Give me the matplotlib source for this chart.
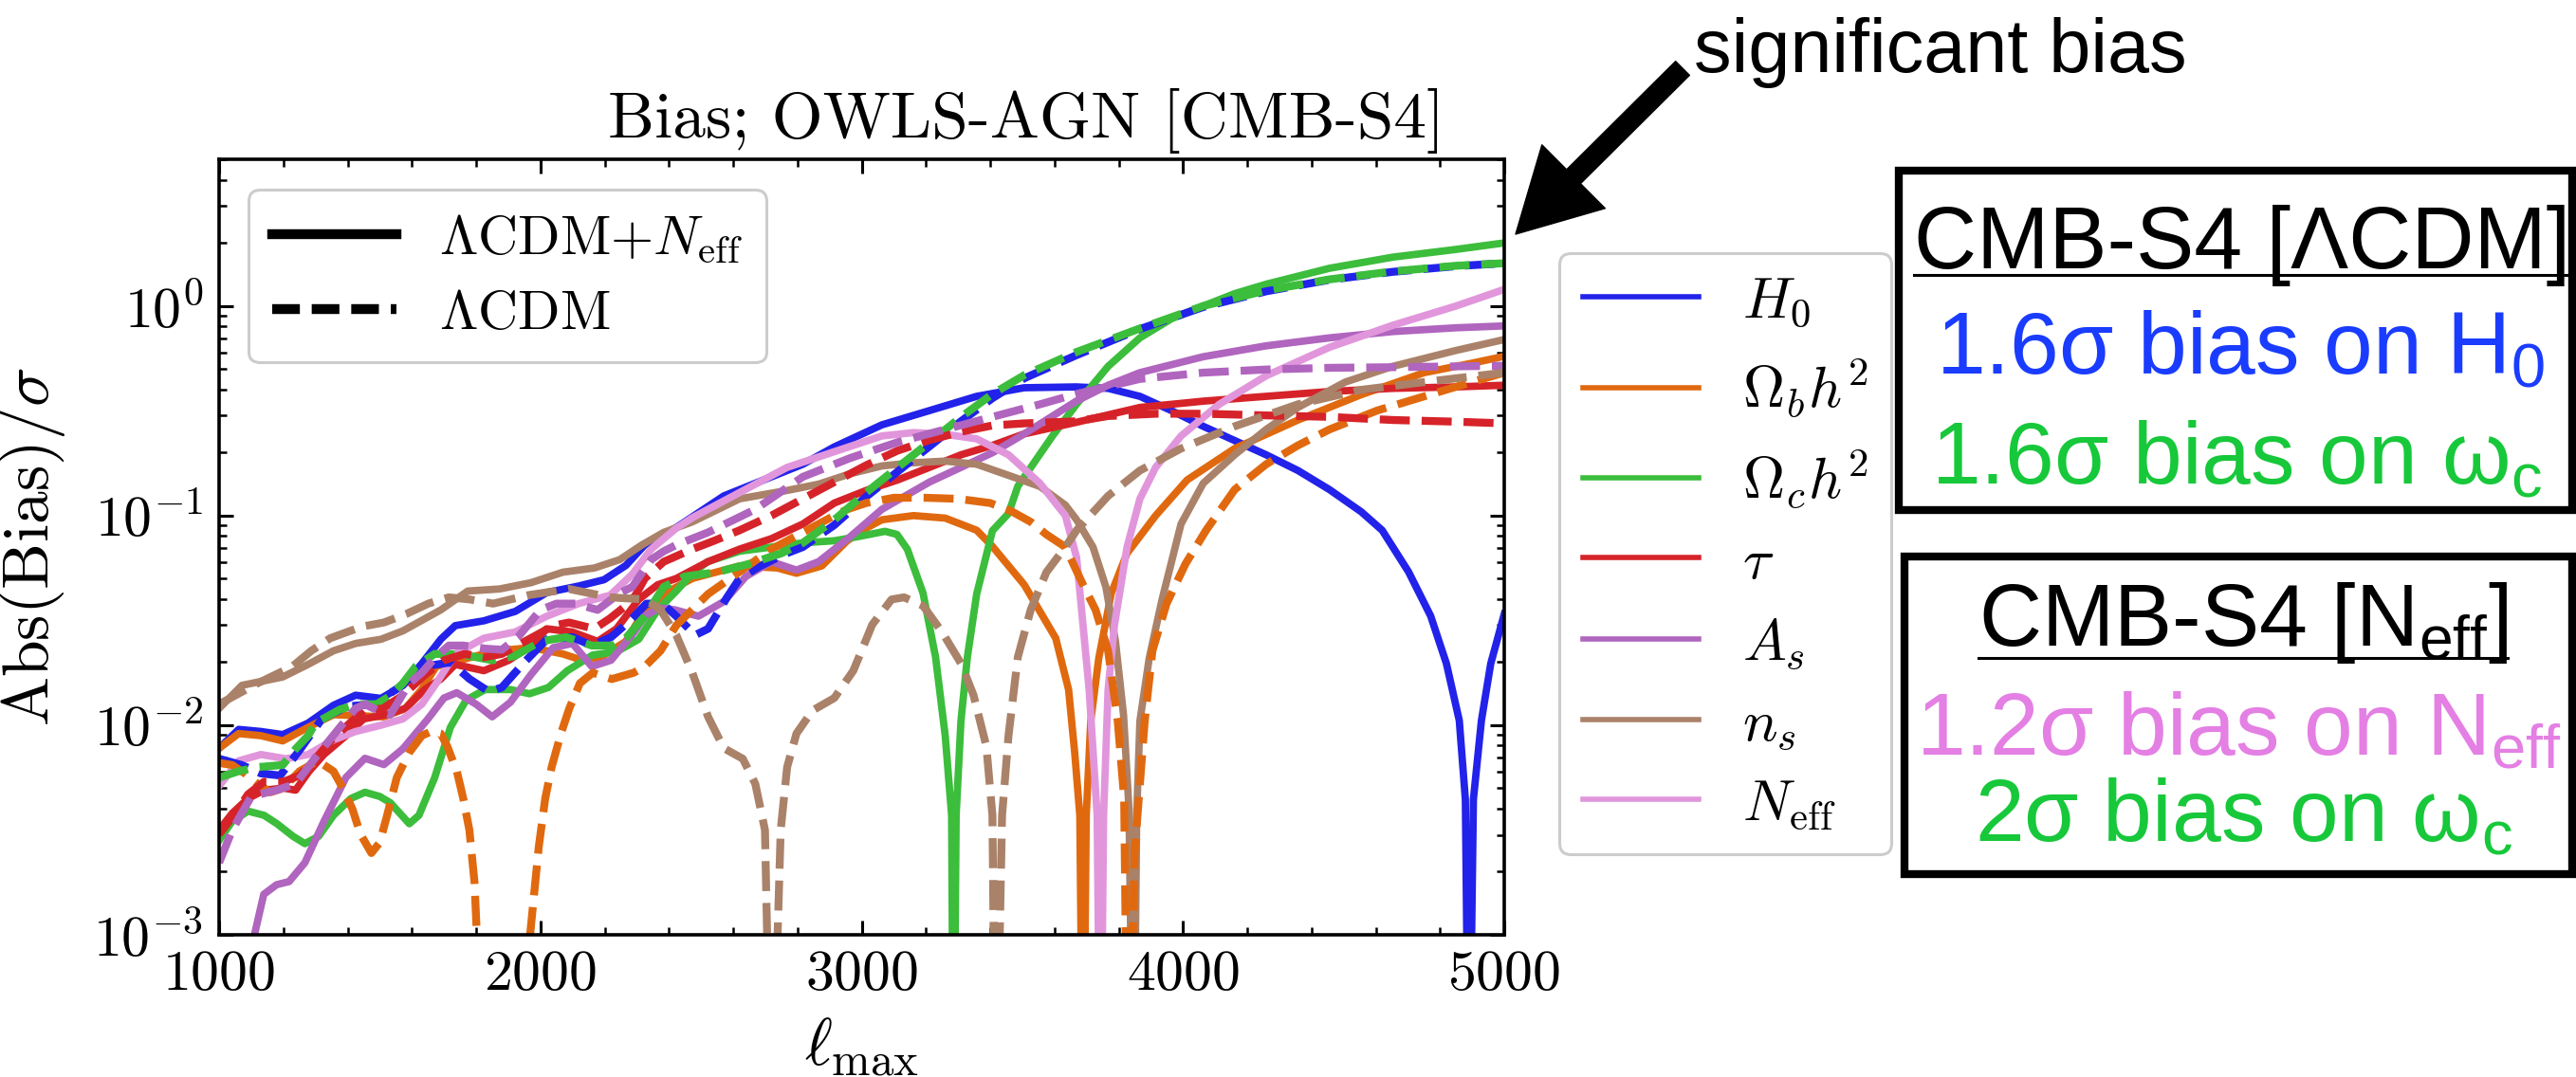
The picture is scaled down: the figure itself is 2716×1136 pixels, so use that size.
import numpy as np
import matplotlib
matplotlib.use("Agg")
import matplotlib.pyplot as plt
from matplotlib.lines import Line2D
from matplotlib.patches import Rectangle
from matplotlib.ticker import LogLocator, MultipleLocator, FixedLocator, NullFormatter

plt.rcParams.update({
    "font.family": "serif",
    "font.serif": ["cmr10"],
    "mathtext.fontset": "cm",
    "axes.formatter.use_mathtext": True,
    "axes.unicode_minus": False,
    "mathtext.rm": "Liberation Sans",
    "mathtext.it": "Liberation Sans:italic",
    "mathtext.bf": "Liberation Sans:bold",
    "mathtext.sf": "Liberation Sans",
})

# ---------------------------------------------------------------------------
# Abs(Bias)/sigma versus ell_max, stored as log10 values.
# "_full" = LCDM+N_eff fit (solid), "_lcdm" = LCDM fit (dashed).
# Values of -3.6 / -4.0 mark zero crossings that drop below the plotted range.
# ---------------------------------------------------------------------------
h0_full_x = [1000, 1061, 1130, 1198, 1277, 1356, 1425, 1504, 1572, 1631,
             1690, 1735, 1824, 1922, 2020, 2119, 2198, 2266, 2325, 2423,
             2571, 2817, 2915, 3063, 3211, 3358, 3506, 3668, 3767, 3866,
             3964, 4063, 4161, 4259, 4358, 4456, 4555, 4620, 4702, 4771,
             4820, 4860, 4879, 4890, 4904, 4929, 4958, 5000]
h0_full_log = [-2.11, -2.02, -2.03, -2.045, -1.99, -1.905, -1.857, -1.872, -1.811, -1.706,
               -1.59, -1.525, -1.502, -1.457, -1.367, -1.336, -1.306, -1.238, -1.14, -1.057,
               -0.906, -0.755, -0.672, -0.567, -0.499, -0.431, -0.39, -0.386, -0.393, -0.431,
               -0.499, -0.574, -0.642, -0.71, -0.785, -0.876, -0.982, -1.07, -1.268, -1.479,
               -1.706, -1.977, -2.354, -4.0, -2.354, -1.977, -1.706, -1.47]

h0_lcdm_x = [1000, 1070, 1130, 1190, 1250, 1320, 1400, 1480, 1560, 1640,
             1720, 1780, 1840, 1880, 1950, 2020, 2100, 2160, 2220, 2280,
             2330, 2380, 2423, 2482, 2522, 2581, 2620, 2679, 2758, 2817,
             2915, 3014, 3112, 3211, 3309, 3407, 3506, 3668, 3866, 4063,
             4259, 4456, 4653, 4850, 5000]
h0_lcdm_log = [-2.16, -2.19, -2.23, -2.24, -2.12, -1.97, -1.91, -1.90, -1.82, -1.72,
               -1.70, -1.78, -1.84, -1.82, -1.70, -1.59, -1.58, -1.62, -1.58, -1.50,
               -1.42, -1.42, -1.48, -1.57, -1.54, -1.39, -1.30, -1.245, -1.185, -1.15,
               -1.045, -0.91, -0.79, -0.67, -0.55, -0.44, -0.345, -0.235, -0.11, -0.005,
               0.07, 0.125, 0.163, 0.19, 0.2041]

omb_full_x = [1000, 1061, 1130, 1198, 1277, 1356, 1435, 1513, 1580, 1630,
              1676, 1750, 1824, 1900, 1971, 2070, 2129, 2188, 2266, 2325,
              2400, 2473, 2620, 2738, 2797, 2876, 2955, 3014, 3063, 3161,
              3260, 3358, 3407, 3506, 3604, 3644, 3663, 3679, 3689, 3699,
              3713, 3738, 3777, 3826, 3915, 4013, 4161, 4358, 4555, 4751,
              4899, 5000]
omb_full_log = [-2.11, -2.04, -2.05, -2.075, -2.01, -1.95, -1.955, -1.96, -1.92, -1.83,
                -1.72, -1.69, -1.66, -1.64, -1.63, -1.66, -1.69, -1.676, -1.60, -1.45,
                -1.36, -1.30, -1.24, -1.25, -1.275, -1.24, -1.12, -1.06, -1.02, -1.00,
                -1.012, -1.07, -1.147, -1.33, -1.585, -1.83, -2.13, -2.43, -4.0, -2.43,
                -1.98, -1.68, -1.37, -1.18, -1.00, -0.83, -0.68, -0.544, -0.423, -0.318,
                -0.273, -0.24]

omb_lcdm_x = [1000, 1041, 1080, 1120, 1160, 1200, 1250, 1307, 1356, 1385,
              1415, 1440, 1474, 1500, 1523, 1553, 1592, 1631, 1660, 1690,
              1710, 1740, 1760, 1779, 1795, 1808, 1815, 1960, 1968, 1995,
              2015, 2035, 2064, 2090, 2123, 2163, 2222, 2290, 2325, 2374,
              2423, 2522, 2620, 2719, 2817, 2915, 2955, 3014, 3100, 3200,
              3300, 3400, 3467, 3526, 3575, 3634, 3689, 3728, 3767, 3797,
              3817, 3829, 3850, 3881, 3905, 3949, 4008, 4072, 4161, 4259,
              4358, 4456, 4604, 4751, 4899, 5000]
omb_lcdm_log = [-2.18, -2.19, -2.23, -2.28, -2.32, -2.30, -2.22, -2.17, -2.22, -2.30,
                -2.40, -2.52, -2.61, -2.56, -2.43, -2.25, -2.13, -2.05, -2.03, -2.04,
                -2.10, -2.22, -2.35, -2.50, -2.75, -3.2, -3.6, -3.6, -3.0, -2.58,
                -2.35, -2.20, -2.04, -1.92, -1.80, -1.75, -1.78, -1.75, -1.72, -1.645,
                -1.524, -1.374, -1.268, -1.16, -1.08, -1.00, -0.97, -0.94, -0.915, -0.915,
                -0.92, -0.94, -0.98, -1.03, -1.09, -1.15, -1.33, -1.45, -1.645, -1.98,
                -2.35, -4.0, -2.6, -1.98, -1.645, -1.42, -1.23, -1.07, -0.876, -0.755,
                -0.665, -0.589, -0.499, -0.431, -0.363, -0.318]

omc_full_x = [1000, 1040, 1090, 1140, 1180, 1230, 1267, 1310, 1356, 1410,
              1454, 1500, 1533, 1592, 1622, 1671, 1720, 1769, 1828, 1907,
              1966, 2025, 2084, 2163, 2237, 2306, 2365, 2423, 2470, 2520,
              2620, 2720, 2817, 2915, 2990, 3073, 3110, 3142, 3191, 3230,
              3260, 3280, 3286, 3294, 3309, 3329, 3358, 3407, 3457, 3486,
              3594, 3668, 3767, 3866, 3964, 4063, 4161, 4259, 4456, 4653,
              4850, 5000]
omc_full_log = [-2.55, -2.46, -2.41, -2.43, -2.47, -2.53, -2.565, -2.53, -2.43, -2.35,
                -2.32, -2.34, -2.37, -2.47, -2.43, -2.25, -2.01, -1.88, -1.83, -1.83,
                -1.85, -1.82, -1.74, -1.665, -1.65, -1.59, -1.45, -1.36, -1.28, -1.22,
                -1.17, -1.15, -1.13, -1.12, -1.10, -1.075, -1.09, -1.16, -1.37, -1.675,
                -2.05, -2.43, -4.0, -2.43, -1.98, -1.675, -1.374, -1.072, -0.99, -0.86,
                -0.62, -0.47, -0.288, -0.152, -0.061, 0.0, 0.059, 0.104, 0.18, 0.233,
                0.27, 0.3010]

omc_lcdm_x = [1000, 1060, 1120, 1198, 1240, 1277, 1300, 1376, 1430, 1490,
              1533, 1572, 1612, 1671, 1720, 1780, 1850, 1920, 2000, 2080,
              2160, 2227, 2266, 2325, 2384, 2450, 2550, 2650, 2750, 2817,
              2915, 3014, 3112, 3211, 3309, 3407, 3506, 3668, 3866, 4063,
              4259, 4456, 4653, 4850, 5000]
omc_lcdm_log = [-2.25, -2.22, -2.20, -2.19, -2.11, -2.05, -1.99, -1.925, -1.90, -1.90,
                -1.86, -1.80, -1.72, -1.66, -1.66, -1.67, -1.69, -1.67, -1.60, -1.58,
                -1.62, -1.62, -1.585, -1.48, -1.34, -1.29, -1.27, -1.23, -1.18, -1.13,
                -1.02, -0.89, -0.77, -0.65, -0.53, -0.42, -0.33, -0.22, -0.107, 0.0,
                0.074, 0.127, 0.165, 0.192, 0.2041]

tau_full_x = [1000, 1041, 1090, 1140, 1200, 1238, 1280, 1326, 1395, 1450,
              1520, 1580, 1640, 1690, 1735, 1824, 1902, 1971, 2020, 2099,
              2178, 2237, 2306, 2365, 2423, 2522, 2620, 2719, 2817, 2915,
              3014, 3112, 3211, 3309, 3407, 3506, 3668, 3866, 4063, 4259,
              4456, 4653, 4850, 5000]
tau_full_log = [-2.50, -2.42, -2.35, -2.31, -2.30, -2.31, -2.22, -2.14, -2.05, -1.97,
                -1.95, -1.92, -1.83, -1.78, -1.71, -1.74, -1.69, -1.62, -1.54, -1.555,
                -1.60, -1.54, -1.40, -1.33, -1.30, -1.22, -1.16, -1.11, -1.04, -0.94,
                -0.88, -0.83, -0.77, -0.71, -0.665, -0.61, -0.555, -0.484, -0.454, -0.431,
                -0.408, -0.393, -0.386, -0.378]

tau_lcdm_x = [1000, 1041, 1090, 1140, 1200, 1250, 1300, 1350, 1400, 1450,
              1510, 1570, 1640, 1700, 1765, 1824, 1880, 1940, 2000, 2040,
              2089, 2168, 2217, 2266, 2296, 2325, 2384, 2473, 2541, 2620,
              2719, 2817, 2915, 3014, 3112, 3211, 3309, 3407, 3506, 3669,
              3767, 3915, 4063, 4259, 4456, 4653, 4850, 5000]
tau_lcdm_log = [-2.52, -2.44, -2.33, -2.27, -2.27, -2.24, -2.16, -2.07, -2.00, -1.93,
                -1.92, -1.86, -1.76, -1.69, -1.66, -1.676, -1.66, -1.61, -1.56, -1.525,
                -1.51, -1.54, -1.49, -1.43, -1.38, -1.30, -1.22, -1.16, -1.12, -1.07,
                -1.00, -0.92, -0.84, -0.76, -0.69, -0.64, -0.60, -0.57, -0.56, -0.55,
                -0.525, -0.514, -0.514, -0.522, -0.529, -0.544, -0.552, -0.56]

as_full_x = [1100, 1110, 1139, 1179, 1218, 1267, 1326, 1395, 1454, 1513,
             1572, 1650, 1700, 1740, 1800, 1850, 1907, 1970, 2040, 2100,
             2160, 2220, 2290, 2325, 2370, 2420, 2492, 2571, 2640, 2719,
             2797, 2866, 2965, 3063, 3211, 3309, 3407, 3506, 3668, 3767,
             3866, 4063, 4259, 4456, 4653, 4850, 5000]
as_full_log = [-3.6, -3.0, -2.807, -2.761, -2.746, -2.656, -2.46, -2.249, -2.158, -2.188,
               -2.113, -1.97, -1.87, -1.845, -1.90, -1.96, -1.89, -1.76, -1.63, -1.61,
               -1.72, -1.69, -1.56, -1.48, -1.44, -1.45, -1.48, -1.41, -1.29, -1.22,
               -1.26, -1.22, -1.10, -0.97, -0.84, -0.77, -0.70, -0.61, -0.454, -0.378,
               -0.318, -0.242, -0.19, -0.152, -0.122, -0.104, -0.095]

as_lcdm_x = [1000, 1041, 1100, 1179, 1238, 1297, 1376, 1425, 1454, 1494,
             1533, 1592, 1631, 1671, 1715, 1760, 1830, 1880, 1930, 2000,
             2050, 2109, 2178, 2247, 2286, 2345, 2384, 2423, 2522, 2669,
             2817, 2965, 3112, 3260, 3407, 3555, 3668, 3866, 4063, 4259,
             4456, 4653, 4850, 5000]
as_lcdm_log = [-2.656, -2.50, -2.34, -2.31, -2.28, -2.16, -2.01, -1.92, -1.90, -1.93,
               -1.95, -1.80, -1.75, -1.68, -1.62, -1.62, -1.635, -1.64, -1.58, -1.45,
               -1.42, -1.42, -1.45, -1.37, -1.34, -1.21, -1.17, -1.14, -1.08, -0.97,
               -0.815, -0.725, -0.65, -0.589, -0.529, -0.469, -0.42, -0.348, -0.318, -0.303,
               -0.295, -0.292, -0.288, -0.285]

ns_full_x = [1000, 1071, 1198, 1277, 1356, 1425, 1504, 1572, 1631, 1690,
             1774, 1873, 1971, 2070, 2168, 2247, 2316, 2384, 2473, 2620,
             2768, 2866, 2965, 3063, 3161, 3260, 3358, 3457, 3555, 3634,
             3669, 3720, 3760, 3790, 3815, 3832, 3846, 3856, 3866, 3895,
             3935, 3994, 4063, 4161, 4259, 4358, 4505, 4653, 4850, 5000]
ns_full_log = [-1.92, -1.81, -1.77, -1.71, -1.645, -1.61, -1.59, -1.55, -1.50, -1.45,
               -1.36, -1.35, -1.32, -1.27, -1.25, -1.21, -1.14, -1.08, -1.03, -0.92,
               -0.88, -0.85, -0.80, -0.763, -0.748, -0.74, -0.755, -0.808, -0.861, -0.95,
               -1.02, -1.15, -1.34, -1.60, -1.95, -2.40, -4.0, -2.43, -1.98, -1.68,
               -1.40, -1.04, -0.846, -0.71, -0.589, -0.484, -0.363, -0.288, -0.212, -0.16]

ns_lcdm_x = [1000, 1060, 1120, 1228, 1287, 1346, 1444, 1513, 1582, 1651,
             1715, 1780, 1853, 1961, 2089, 2217, 2325, 2374, 2423, 2473,
             2522, 2571, 2630, 2669, 2699, 2719, 2748, 2768, 2797, 2847,
             2915, 2974, 3033, 3093, 3132, 3191, 3250, 3309, 3348, 3388,
             3407, 3417, 3437, 3457, 3486, 3526, 3575, 3634, 3669, 3767,
             3866, 3994, 4161, 4358, 4555, 4751, 5000]
ns_lcdm_log = [-1.90, -1.85, -1.80, -1.72, -1.645, -1.585, -1.53, -1.51, -1.47, -1.42,
               -1.39, -1.40, -1.42, -1.38, -1.35, -1.39, -1.40, -1.45, -1.57, -1.75,
               -1.96, -2.11, -2.16, -2.28, -2.50, -4.0, -2.50, -2.20, -2.04, -1.93,
               -1.87, -1.74, -1.52, -1.40, -1.39, -1.43, -1.555, -1.705, -1.856, -2.10,
               -2.43, -4.0, -2.43, -2.05, -1.675, -1.45, -1.27, -1.15, -1.07, -0.906,
               -0.785, -0.68, -0.574, -0.469, -0.40, -0.363, -0.318]

neff_full_x = [1000, 1061, 1130, 1208, 1277, 1356, 1425, 1504, 1572, 1631,
               1676, 1735, 1824, 1922, 2020, 2119, 2217, 2286, 2345, 2423,
               2473, 2620, 2768, 2915, 3063, 3161, 3260, 3358, 3457, 3555,
               3634, 3669, 3708, 3733, 3743, 3753, 3767, 3787, 3826, 3866,
               3915, 3994, 4112, 4259, 4456, 4653, 4850, 5000]
neff_full_log = [-2.29, -2.17, -2.14, -2.16, -2.14, -2.07, -2.03, -2.00, -1.97, -1.90,
                 -1.80, -1.66, -1.585, -1.555, -1.48, -1.42, -1.38, -1.28, -1.16, -1.06,
                 -1.01, -0.89, -0.77, -0.695, -0.62, -0.604, -0.612, -0.634, -0.71, -0.846,
                 -1.00, -1.20, -1.83, -2.43, -4.0, -2.43, -1.83, -1.52, -1.15, -0.92,
                 -0.77, -0.62, -0.47, -0.333, -0.197, -0.092, 0.0, 0.0792]

param_labels = [r"$H_0$", r"$\Omega_b h^2$", r"$\Omega_c h^2$", r"$\tau$",
                r"$A_s$", r"$n_s$", r"$N_{\rm eff}$"]
param_colors = ["#2222ea", "#e0690f", "#3cbd3c", "#d62329",
                "#b065be", "#aa8269", "#e196dc"]

full_curves = [(h0_full_x, h0_full_log), (omb_full_x, omb_full_log),
               (omc_full_x, omc_full_log), (tau_full_x, tau_full_log),
               (as_full_x, as_full_log), (ns_full_x, ns_full_log),
               (neff_full_x, neff_full_log)]
lcdm_curves = [(h0_lcdm_x, h0_lcdm_log), (omb_lcdm_x, omb_lcdm_log),
               (omc_lcdm_x, omc_lcdm_log), (tau_lcdm_x, tau_lcdm_log),
               (as_lcdm_x, as_lcdm_log), (ns_lcdm_x, ns_lcdm_log), None]

model_labels = [r"$\Lambda\mathrm{CDM}{+}N_{\rm eff}$", r"$\Lambda\mathrm{CDM}$"]

# ---------------------------------------------------------------------------
W, H = 2716, 1136
fig = plt.figure(figsize=(W / 100, H / 100), dpi=100)


def fx(px):
    return px / W


def fy(py):
    return 1 - py / H


ax = fig.add_axes([fx(231), fy(986), 1355 / W, 818 / H])

LW_SOLID = 5.6
LW_DASH = 6.0
for i, color in enumerate(param_colors):
    xs, ls_ = full_curves[i]
    ax.plot(xs, np.power(10.0, ls_), color=color, lw=LW_SOLID,
            solid_joinstyle="round", zorder=2)
for i, color in enumerate(param_colors):
    if lcdm_curves[i] is None:
        continue
    xs, ls_ = lcdm_curves[i]
    ax.plot(xs, np.power(10.0, ls_), color=color, lw=LW_DASH,
            ls="--", dashes=(3.8, 1.5), zorder=2)

ax.set_yscale("log")
ax.set_xlim(1000, 5000)
ax.set_ylim(1e-3, 10 ** 0.7)

ax.xaxis.set_major_locator(FixedLocator([1000, 2000, 3000, 4000, 5000]))
ax.xaxis.set_minor_locator(MultipleLocator(200))
ax.yaxis.set_major_locator(LogLocator(base=10, numticks=12))
ax.yaxis.set_minor_locator(LogLocator(base=10, subs=np.arange(2, 10), numticks=12))
ax.yaxis.set_minor_formatter(NullFormatter())

ax.tick_params(which="major", direction="in", length=11, width=2.2,
               labelsize=43, top=True, right=True, pad=12)
ax.tick_params(which="minor", direction="in", length=6, width=1.8,
               top=True, right=True)
for sp in ax.spines.values():
    sp.set_linewidth(2.6)

ax.set_ylabel(r"$\mathrm{Abs(Bias)}/\sigma$", fontsize=50)
ax.yaxis.set_label_coords(-0.118, 0.5)
ax.set_xlabel(r"$\ell_{\max}$", fontsize=50)
ax.xaxis.set_label_coords(0.5, -0.105)

ax.text(0.628, 1.028, "Bias; OWLS-AGN [CMB-S4]", transform=ax.transAxes,
        ha="center", va="baseline", fontsize=50)

# legend for the two model fits
model_handles = [Line2D([], [], color="k", lw=7.5),
                 Line2D([], [], color="k", lw=7.5, ls="--", dashes=(2.8, 1.2))]
leg1 = ax.legend(model_handles, model_labels, loc="upper left",
                 bbox_to_anchor=(0.023, 0.961), borderaxespad=0, fontsize=42,
                 handlelength=2.25, handletextpad=0.78, labelspacing=0.45,
                 borderpad=0.42, fancybox=True, framealpha=1.0, edgecolor="0.8")
leg1.get_frame().set_linewidth(2.2)
ax.add_artist(leg1)

# legend for the parameters, outside the axes on the right
param_handles = [Line2D([], [], color=c, lw=4.0) for c in param_colors]
leg2 = ax.legend(param_handles, param_labels, loc="upper left",
                 bbox_to_anchor=(1.043, 0.879), borderaxespad=0, fontsize=44,
                 handlelength=2.0, handletextpad=0.75, labelspacing=0.47,
                 borderpad=0.4, fancybox=True, framealpha=1.0, edgecolor="0.8")
leg2.get_frame().set_linewidth(2.2)

# annotation: arrow and caption
ax.annotate("", xy=(fx(1598), fy(247)), xytext=(fx(1774), fy(72)),
            xycoords="figure fraction", textcoords="figure fraction",
            arrowprops=dict(facecolor="black", edgecolor="black", width=15,
                            headwidth=68, headlength=62, shrink=0.0),
            annotation_clip=False)
SANS = "Liberation Sans"
fig.text(fx(1786), fy(76), "significant bias", fontsize=57, family=SANS,
         va="baseline", ha="left")

# summary boxes
BLUE = "#1a3cff"
GREEN = "#17c83a"
PINK = "#e47fe4"
fig.add_artist(Rectangle((fx(2002), fy(538)), (2712 - 2002) / W, 358 / H,
                         transform=fig.transFigure, fill=False, lw=6,
                         ec="black", clip_on=False))
fig.add_artist(Rectangle((fx(2008), fy(922)), (2712 - 2008) / W, 335 / H,
                         transform=fig.transFigure, fill=False, lw=6,
                         ec="black", clip_on=False))

head_kw = dict(ha="center", va="baseline", fontsize=66, family=SANS,
               math_fontfamily="custom")
line_kw = dict(ha="center", va="baseline", fontsize=67, family=SANS,
               math_fontfamily="custom")
head1 = fig.text(fx(2364), fy(283), "CMB-S4 [ΛCDM]", color="black", **head_kw)
fig.text(fx(2362), fy(395), r"1.6σ bias on H$_0$", color=BLUE, **line_kw)
fig.text(fx(2358), fy(511), r"1.6σ bias on ω$_\mathrm{c}$", color=GREEN, **line_kw)
head2 = fig.text(fx(2365), fy(681), r"CMB-S4 [N$_\mathrm{eff}$]", color="black", **head_kw)
fig.text(fx(2360), fy(797), r"1.2σ bias on N$_\mathrm{eff}$", color=PINK, **line_kw)
fig.text(fx(2366), fy(888), r"2σ bias on ω$_\mathrm{c}$", color=GREEN, **line_kw)

fig.canvas.draw()
renderer = fig.canvas.get_renderer()
for t, uy in ((head1, 290), (head2, 694)):
    bb = t.get_window_extent(renderer)
    fig.add_artist(Line2D([bb.x0 / W, bb.x1 / W], [fy(uy), fy(uy)],
                          transform=fig.transFigure, color="black", lw=2.2))

fig.savefig("out.png", dpi=100)
